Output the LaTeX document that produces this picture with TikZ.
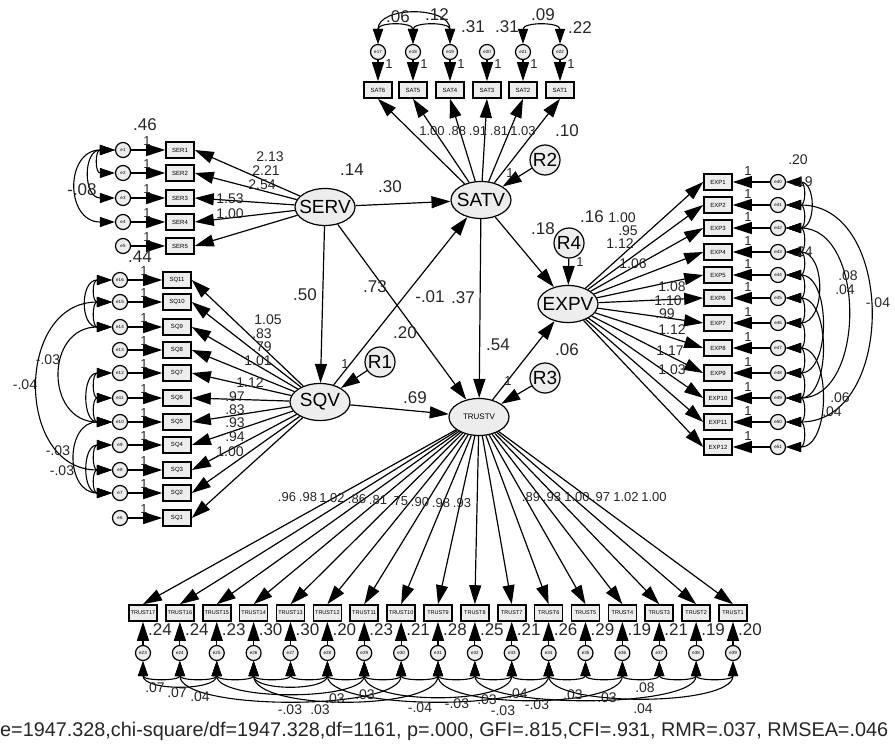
\documentclass[tikz,border=0pt]{standalone}
\usepackage{fontspec}
\setmainfont{Liberation Sans}
\usepackage{graphicx}
\usetikzlibrary{shapes.geometric,arrows.meta}
\begin{document}
\begin{tikzpicture}[x=1pt,y=-1pt,
  lat/.style={ellipse,draw,line width=1.2pt,fill=black!7,minimum width=60pt,minimum height=37pt,inner xsep=-12pt,inner ysep=0pt,font=\fontsize{19}{19}\selectfont},
  obs/.style={rectangle,draw,line width=1.6pt,fill=black!7,minimum width=28pt,minimum height=16pt,inner sep=0pt,font=\fontsize{6}{6}\selectfont},
  err/.style={circle,draw,line width=1.2pt,fill=black!7,minimum size=15pt,inner sep=0pt,font=\fontsize{4.5}{4.5}\selectfont},
  res/.style={circle,draw,line width=1.2pt,fill=black!7,minimum size=30pt,inner sep=0pt,font=\fontsize{19}{19}\selectfont},
  arr/.style={line width=1.2pt,-{Triangle[length=19pt,width=12pt]}},
  cov/.style={line width=1.1pt,{Triangle[length=15pt,width=10pt]}-{Triangle[length=15pt,width=10pt]}},
  lab/.style={font=\fontsize{17}{17}\selectfont,inner sep=0pt,text=black!85},
  slab/.style={font=\fontsize{14}{14}\selectfont,inner sep=0pt,text=black!85},
  tlab/.style={font=\fontsize{13}{13}\selectfont,inner sep=0pt,text=black!85},
  one/.style={font=\fontsize{13}{13}\selectfont,inner sep=0pt,text=black!85},
]
\useasboundingbox (0,0) rectangle (895,744);

% latent variables and residuals
\node[lat] (serv) at (325,207) {SERV};
\node[lat] (sqv) at (320,402) {SQV};
\node[lat] (satv) at (481,200) {SATV};
\node[lat,inner xsep=0pt,font=\fontsize{8}{8}\selectfont] (trustv) at (479,417) {TRUSTV};
\node[lat] (expv) at (568,304) {EXPV};
\node[res] (r1) at (380,362) {R1};
\node[res] (r2) at (545,160) {R2};
\node[res] (r3) at (545,378) {R3};
\node[res] (r4) at (569,243) {R4};

% structural paths
\draw[arr] (serv) -- (satv);
\draw[arr] (serv) -- (sqv);
\draw[arr] (serv) -- (trustv);
\draw[arr] (sqv) -- (satv);
\draw[arr] (sqv) -- (trustv);
\draw[arr] (satv) -- (trustv);
\draw[arr] (satv) -- (expv);
\draw[arr] (trustv) -- (expv);
\draw[arr] (r1) -- (sqv);
\draw[arr] (r2) -- (satv);
\draw[arr] (r3) -- (trustv);
\draw[arr] (r4) -- (expv);

% SAT indicators
\foreach \x [count=\i] in {378,413,450,487,523,560} {
  \pgfmathtruncatemacro\k{7-\i}
  \pgfmathtruncatemacro\m{16+\i}
  \node[obs] (sat\i) at (\x,90) {SAT\k};
  \node[err] (sate\i) at (\x,52) {e\m};
  \draw[arr] (sate\i) -- (sat\i);
  \draw[arr] (satv) -- (sat\i.south);
  \node[one] at (\x+11,64) {1};
}
\foreach \a/\b/\h in {1/2/22,2/3/22,1/3/38,5/6/22}
  \draw[cov] (sate\a.north) .. controls +(0,-\h) and +(0,-\h) .. (sate\b.north);

% SER indicators
\foreach \y [count=\i] in {150,173,198,222,246} {
  \node[obs] (ser\i) at (180,\y) {SER\i};
  \node[err] (sere\i) at (123,\y) {e\i};
  \draw[arr] (sere\i) -- (ser\i);
  \draw[arr] (serv) -- (ser\i.east);
  \node[one] at (147,\y-9) {1};
}
\foreach \a/\b/\h in {1/2/20,1/3/32,1/4/50}
  \draw[cov] (sere\a.west) .. controls +(-\h,0) and +(-\h,0) .. (sere\b.west);

% SQ indicators
\foreach \y [count=\i] in {280,302,327,350,373,398,422,445,470,493,518} {
  \pgfmathtruncatemacro\k{12-\i}
  \pgfmathtruncatemacro\m{17-\i}
  \node[obs] (sq\i) at (177,\y) {SQ\k};
  \node[err] (sqe\i) at (120,\y) {e\m};
  \draw[arr] (sqe\i) -- (sq\i);
  \draw[arr] (sqv) -- (sq\i.east);
  \node[one] at (144,\y-9) {1};
}
\foreach \a/\b/\h in {1/2/20,2/3/20,1/3/32,2/9/97,3/7/67,5/6/20,6/7/20,5/7/30,7/10/47,8/9/20,9/10/20,8/10/30}
  \draw[cov] (sqe\a.west) .. controls +(-\h,0) and +(-\h,0) .. (sqe\b.west);

% EXP indicators
\foreach \y [count=\i] in {182,205,228,252,275,298,323,348,373,398,422,447} {
  \pgfmathtruncatemacro\m{39+\i}
  \node[obs] (exp\i) at (718,\y) {EXP\i};
  \node[err] (expe\i) at (778,\y) {e\m};
  \draw[arr] (expe\i) -- (exp\i);
  \draw[arr] (expv) -- (exp\i.west);
  \node[one] at (748,\y-11) {1};
}
\foreach \a/\b/\h in {1/2/20,2/3/20,3/4/20,4/5/20,5/6/20,6/7/20,7/8/20,8/9/20,9/10/20,10/11/20,11/12/20,1/3/30,2/11/110,3/10/80,4/7/40,5/9/45,6/10/45,8/12/45}
  \draw[cov] (expe\a.east) .. controls +(\h,0) and +(\h,0) .. (expe\b.east);

% TRUST indicators
\foreach \i in {1,...,17} {
  \pgfmathsetmacro\x{143+36.875*(\i-1)}
  \pgfmathtruncatemacro\k{18-\i}
  \pgfmathtruncatemacro\m{22+\i}
  \node[obs,font=\fontsize{5.5}{5.5}\selectfont] (tr\i) at (\x,613) {TRUST\k};
  \node[err] (tre\i) at (\x,653) {e\m};
  \draw[arr] (tre\i) -- (tr\i);
  \draw[arr] (trustv) -- (tr\i.north);
}
\foreach \a/\b/\h in {1/2/20,2/3/20,1/3/30,3/4/20,4/5/20,5/6/20,6/7/20,4/6/30,7/8/20,8/9/20,9/10/20,10/11/20,11/12/20,12/13/20,13/14/20,14/15/20,15/16/20,16/17/20,2/8/50,4/9/50,6/12/50,7/11/44,9/14/48,10/16/48,12/17/46,3/7/40}
  \draw[cov] (tre\a.south) .. controls +(0,\h) and +(0,\h) .. (tre\b.south);

% structural labels
\node[lab] at (390,187) {.30};
\node[lab] at (305,295) {.50};
\node[lab] at (375,287) {.73};
\node[lab] at (430,297) {-.01};
\node[lab] at (463,298) {.37};
\node[lab] at (405,333) {.20};
\node[lab] at (498,345) {.54};
\node[lab] at (567,350) {.06};
\node[lab] at (415,398) {.69};
\node[lab] at (543,229) {.18};
\node[lab] at (592,217) {.16};
\node[lab] at (352,170) {.14};
\node[one] at (345,364) {1};
\node[one] at (508,381) {1};
\node[one] at (580,262) {1};
\node[one] at (510,173) {1};

% SER labels
\foreach \t/\x/\y in {.46/145/125,.44/140/257,-.08/82/190}
  \node[lab] at (\x,\y) {\t};
\foreach \t/\x/\y in {2.13/270/157,2.21/266/171,2.54/262/185,1.53/230/199,1.00/230/214}
  \node[slab] at (\x,\y) {\t};
% SQ labels
\foreach \t/\x/\y in {1.05/268/320,.83/262/334,.79/262/347,1.01/258/361,1.12/250/383,.97/235/397,.83/235/410,.93/235/423,.94/235/437,1.00/230/452}
  \node[slab] at (\x,\y) {\t};
\foreach \t/\x/\y in {-.03/48/360,-.04/25/385,-.03/58/451,-.03/62/471}
  \node[slab] at (\x,\y) {\t};
% SAT labels
\foreach \t/\x/\y in {.06/398/17,.12/437/15,.31/473/27,.31/507/27,.09/543/15,.22/580/28,.10/567/131}
  \node[lab] at (\x,\y) {\t};
\foreach \t/\x/\y in {1.00/432/131,.88/457/131,.91/478/131,.81/499/131,1.03/523/131}
  \node[tlab] at (\x,\y) {\t};
% EXP labels
\foreach \t/\x/\y in {1.00/622/218,.95/628/231,1.12/620/244,1.06/633/264,1.08/672/287,1.10/668/301,.99/665/314,1.12/672/330,1.17/670/351,1.03/672/370}
  \node[slab] at (\x,\y) {\t};
\foreach \t/\x/\y in {.20/798/160,.19/803/182,.24/803/252,.08/848/276,.04/845/290,-.04/878/303,.06/840/398,.04/832/412}
  \node[slab] at (\x,\y) {\t};
% TRUST labels
\foreach \t/\x/\y in {.96/287/497,.98/308/497,1.02/332/498,.86/357/499,.81/378/500,.75/399/501,.90/420/502,.98/441/503,.93/462/503,.89/531/497,.93/552/497,1.00/577/497,.97/601/497,1.02/626/497,1.00/654/497}
  \node[tlab] at (\x,\y) {\t};
\foreach \t [count=\i] in {.24,.24,.23,.30,.30,.20,.23,.21,.28,.25,.21,.26,.29,.19,.21,.19,.20}
  \node[lab] at (143+36.875*\i-36.875+17,630) {\t};
\foreach \t/\x/\y in {.07/155/688,.07/177/693,.04/200/697,-.03/290/710,.03/320/710,.03/335/699,.03/365/695,-.04/420/708,-.03/457/704,.03/487/700,.04/518/694,-.03/503/711,-.03/537/705,.03/573/695,.03/607/698,.08/645/688,.04/643/709}
  \node[slab] at (\x,\y) {\t};

% fit statistics
\node[anchor=west,inner sep=0pt,text=black!85] at (0,731) {\resizebox{888pt}{!}{\fontsize{18}{18}\selectfont e=1947.328,chi-square/df=1947.328,df=1161, p=.000, GFI=.815,CFI=.931, RMR=.037, RMSEA=.046}};
\end{tikzpicture}
\end{document}
